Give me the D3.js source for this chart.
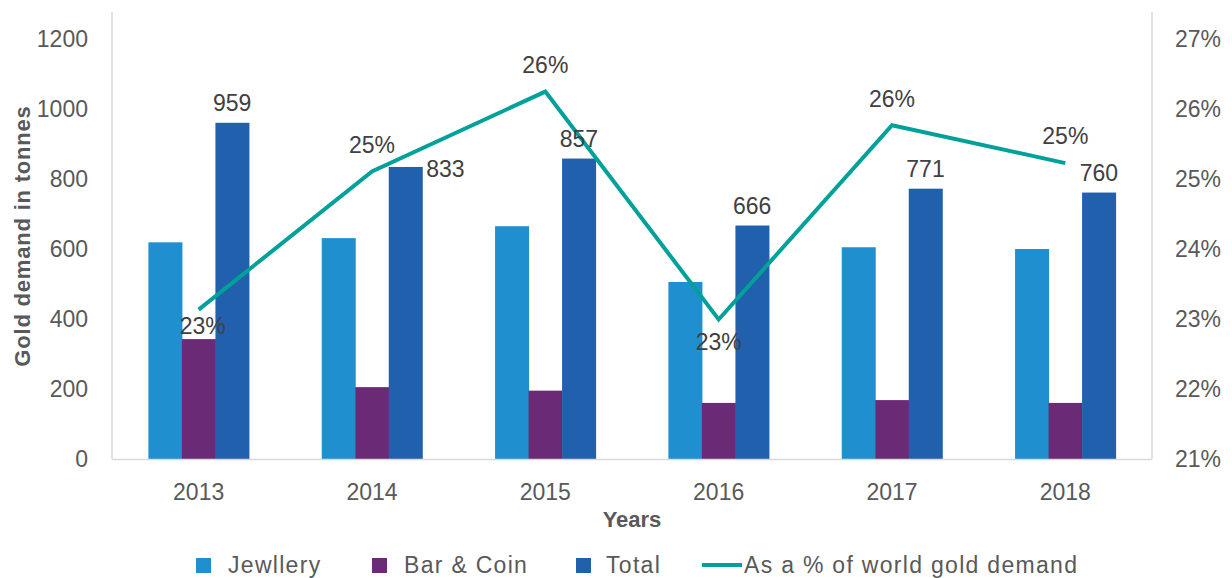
<!DOCTYPE html>
<html><head><meta charset="utf-8">
<script src="https://cdn.jsdelivr.net/npm/d3@7/dist/d3.min.js"></script>
<style>
body{margin:0;background:#fff;}
svg text{font-family:"Liberation Sans",Arial,sans-serif;}
</style></head>
<body><svg id="c" width="1232" height="578"></svg>
<script>
const years = ["2013","2014","2015","2016","2017","2018"];
const jewellery = [618, 630, 664, 505, 604, 599];
const barCoin = [342, 205, 195, 160, 168, 160];
const total = [959, 833, 857, 666, 771, 760];
const pctWorld = [23.13, 25.1, 26.24, 22.99, 25.76, 25.22];
const leftTicks = [0, 200, 400, 600, 800, 1000, 1200];
const rightTicks = [21, 22, 23, 24, 25, 26, 27];
const seriesNames = ["Jewllery", "Bar & Coin", "Total"];
const lineName = "As a % of world gold demand";

const colors = ["#1F8FD0", "#6B2A75", "#2160AD"];
const lineColor = "#00A19A";
const pctLabelPos = ["below","above","above","below","above","above"];
const totalLabelPos = ["top","right","top","top","top","top"];

const svg = d3.select("#c");
const L = 112, R = 1152, B = 459, T = 12;
const FS = "23px";

const x = d3.scaleBand().domain(years).range([L, R]).paddingInner(0.42).paddingOuter(0.21);
const xs = d3.scaleBand().domain([0,1,2]).range([0, x.bandwidth()]);
const y = d3.scaleLinear().domain([0, 1275]).range([B, T]);
const y2 = d3.scaleLinear().domain([21, 27.375]).range([B, T]);

// axis lines
svg.append("line").attr("x1", L).attr("x2", L).attr("y1", T).attr("y2", B).attr("stroke", "#D9D9D9").attr("stroke-width", 1.5);
svg.append("line").attr("x1", R).attr("x2", R).attr("y1", T).attr("y2", B).attr("stroke", "#D9D9D9").attr("stroke-width", 1.5);

// bars
const series = [jewellery, barCoin, total];
series.forEach((vals, si) => {
  svg.append("g").selectAll("rect").data(vals).join("rect")
    .attr("x", (d, i) => x(years[i]) + xs(si))
    .attr("width", xs.bandwidth() + 0.5)
    .attr("y", d => y(d))
    .attr("height", d => B - y(d))
    .attr("fill", colors[si]);
});

svg.append("line").attr("x1", L).attr("x2", R).attr("y1", B + 0.5).attr("y2", B + 0.5).attr("stroke", "#D9D9D9").attr("stroke-width", 1.5);

// left ticks
svg.append("g").selectAll("text").data(leftTicks).join("text")
  .attr("x", 88).attr("y", d => y(d)).attr("dy", "0.36em")
  .attr("text-anchor", "end").attr("fill", "#595959")
  .style("font-size", FS)
  .text(d => d);
// right ticks
svg.append("g").selectAll("text").data(rightTicks).join("text")
  .attr("x", 1175).attr("y", d => y2(d)).attr("dy", "0.36em")
  .attr("text-anchor", "start").attr("fill", "#595959")
  .style("font-size", FS)
  .text(d => d + "%");
// x ticks
svg.append("g").selectAll("text").data(years).join("text")
  .attr("x", d => x(d) + x.bandwidth() / 2).attr("y", 492).attr("dy", "0.36em")
  .attr("text-anchor", "middle").attr("fill", "#595959")
  .style("font-size", FS)
  .text(d => d);

// axis titles
svg.append("text").attr("x", 632).attr("y", 519).attr("dy", "0.36em")
  .attr("text-anchor", "middle").attr("fill", "#595959")
  .style("font-size", "22px").style("font-weight", "bold")
  .text("Years");
svg.append("text").attr("transform", "translate(22,236) rotate(-90)").attr("dy", "0.36em")
  .attr("text-anchor", "middle").attr("fill", "#595959")
  .style("font-size", "22px").style("font-weight", "bold").style("letter-spacing", "0.8px")
  .text("Gold demand in tonnes");

// line
const cx = d => x(d) + x.bandwidth() / 2;
const line = d3.line().x((d, i) => cx(years[i])).y(d => y2(d));
svg.append("path").datum(pctWorld).attr("d", line)
  .attr("fill", "none").attr("stroke", lineColor).attr("stroke-width", 4).attr("stroke-linejoin", "miter");

// total labels
svg.append("g").selectAll("text").data(total).join("text")
  .attr("x", (d, i) => totalLabelPos[i] === "right" ? x(years[i]) + xs(2) + xs.bandwidth() + 4 : x(years[i]) + xs(2) + xs.bandwidth() / 2)
  .attr("y", (d, i) => totalLabelPos[i] === "right" ? y(d) + 2 : y(d) - 20)
  .attr("dy", "0.36em")
  .attr("text-anchor", (d, i) => totalLabelPos[i] === "right" ? "start" : "middle")
  .attr("fill", "#404040").style("font-size", FS)
  .text(d => d);

// pct labels
svg.append("g").selectAll("text").data(pctWorld).join("text")
  .attr("x", (d, i) => cx(years[i]) + (i === 0 ? 4 : 0))
  .attr("y", (d, i) => pctLabelPos[i] === "above" ? y2(d) - 27 : y2(d) + (i === 0 ? 16 : 22))
  .attr("dy", "0.36em").attr("text-anchor", "middle")
  .attr("fill", "#404040").style("font-size", FS)
  .text(d => Math.round(d) + "%");

// legend
const lg = svg.append("g");
const sqX = [196, 372, 576];
const txX = [228, 404, 606];
seriesNames.forEach((n, i) => {
  lg.append("rect").attr("x", sqX[i]).attr("y", 558).attr("width", 15).attr("height", 15).attr("fill", colors[i]);
  lg.append("text").attr("x", txX[i]).attr("y", 565).attr("dy", "0.36em").attr("fill", "#595959")
    .style("font-size", FS).style("letter-spacing", "1.3px").text(n);
});
lg.append("line").attr("x1", 702).attr("x2", 742).attr("y1", 565).attr("y2", 565).attr("stroke", lineColor).attr("stroke-width", 4);
lg.append("text").attr("x", 744).attr("y", 565).attr("dy", "0.36em").attr("fill", "#595959")
  .style("font-size", FS).style("letter-spacing", "1.3px").text(lineName);
</script></body></html>
